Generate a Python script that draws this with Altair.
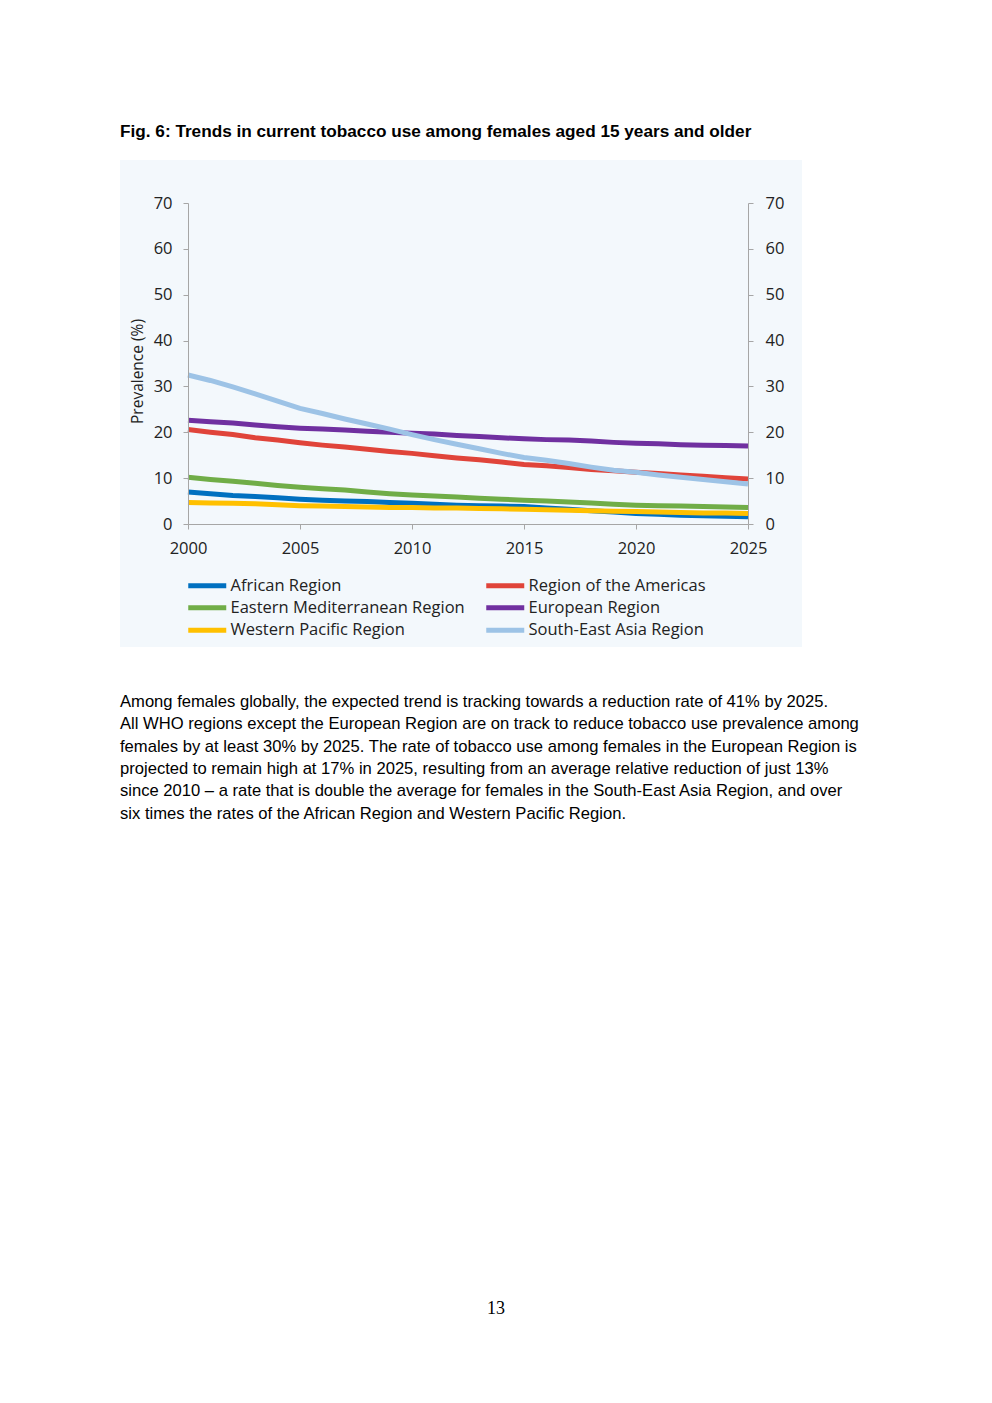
import altair as alt
import pandas as pd

years = list(range(2000, 2026))

african = [7.0, 6.6, 6.2, 6.0, 5.7, 5.4, 5.2, 5.0, 4.9, 4.7, 4.5, 4.3, 4.1, 4.0, 3.9, 3.8, 3.5, 3.2, 2.9, 2.6, 2.3, 2.1, 1.9, 1.8, 1.7, 1.6]
americas = [20.6, 20.0, 19.5, 18.8, 18.3, 17.7, 17.2, 16.8, 16.3, 15.8, 15.4, 14.9, 14.4, 14.0, 13.5, 13.0, 12.7, 12.3, 11.9, 11.6, 11.3, 11.0, 10.7, 10.4, 10.1, 9.8]
eastern_med = [10.2, 9.7, 9.3, 8.9, 8.4, 8.0, 7.7, 7.4, 7.0, 6.6, 6.3, 6.1, 5.9, 5.6, 5.4, 5.2, 5.0, 4.8, 4.6, 4.3, 4.1, 4.0, 3.9, 3.8, 3.7, 3.6]
european = [22.6, 22.3, 22.0, 21.6, 21.2, 20.9, 20.7, 20.5, 20.2, 20.0, 19.8, 19.6, 19.3, 19.1, 18.8, 18.6, 18.4, 18.3, 18.1, 17.8, 17.6, 17.5, 17.3, 17.2, 17.1, 17.0]
se_asia = [32.5, 31.3, 29.9, 28.4, 26.8, 25.2, 24.1, 22.9, 21.8, 20.7, 19.5, 18.4, 17.4, 16.4, 15.4, 14.5, 13.9, 13.2, 12.4, 11.7, 11.3, 10.7, 10.2, 9.7, 9.2, 8.7]
w_pacific = [4.7, 4.6, 4.5, 4.4, 4.2, 4.0, 3.9, 3.8, 3.7, 3.6, 3.6, 3.5, 3.5, 3.4, 3.3, 3.2, 3.1, 3.0, 2.9, 2.8, 2.7, 2.6, 2.5, 2.4, 2.4, 2.3]

draw_order = ["African Region", "Region of the Americas", "Eastern Mediterranean Region",
              "European Region", "South-East Asia Region", "Western Pacific Region"]
series_values = [african, americas, eastern_med, european, se_asia, w_pacific]

# legend is filled column by column: left column then right column
legend_order = ["African Region", "Eastern Mediterranean Region", "Western Pacific Region",
                "Region of the Americas", "European Region", "South-East Asia Region"]
legend_colors = ["#0070C0", "#70AD47", "#FFC000", "#E0443A", "#7030A0", "#9DC3E6"]

y_ticks = [0, 10, 20, 30, 40, 50, 60, 70]
x_ticks = [2000, 2005, 2010, 2015, 2020, 2025]

title_text = "Fig. 6: Trends in current tobacco use among females aged 15 years and older"
paragraph_lines = [
    "Among females globally, the expected trend is tracking towards a reduction rate of 41% by 2025.",
    "All WHO regions except the European Region are on track to reduce tobacco use prevalence among",
    "females by at least 30% by 2025. The rate of tobacco use among females in the European Region is",
    "projected to remain high at 17% in 2025, resulting from an average relative reduction of just 13%",
    "since 2010 \u2013 a rate that is double the average for females in the South-East Asia Region, and over",
    "six times the rates of the African Region and Western Pacific Region.",
]
page_number = "13"

rows = []
for i, (name, vals) in enumerate(zip(draw_order, series_values)):
    for y, v in zip(years, vals):
        rows.append({"Year": y, "Region": name, "Value": v, "ord": i})
df = pd.DataFrame(rows)

FONT = "Open Sans"
TXT = "Liberation Sans"
AX = "#A6A6A6"
LBL = "#222222"
FS = 16.5

xscale = alt.Scale(domain=[2000, 2025], nice=False, zero=False)
yscale = alt.Scale(domain=[0, 70], nice=False)

bg = alt.Chart(pd.DataFrame({"a": [0]})).mark_rect(color="#F3F8FC").encode(
    x=alt.value(-68), x2=alt.value(614), y=alt.value(-43), y2=alt.value(444)
)

lines = alt.Chart(df).mark_line(strokeWidth=5, strokeCap="butt", interpolate="linear").encode(
    x=alt.X("Year:Q", scale=xscale,
            axis=alt.Axis(values=x_ticks, format="d", title=None, grid=False, zindex=1,
                          domainColor=AX, tickColor=AX, tickSize=5,
                          labelFont=FONT, labelFontSize=FS, labelColor=LBL,
                          labelPadding=11, labelFlush=False)),
    y=alt.Y("Value:Q", scale=yscale,
            axis=alt.Axis(values=y_ticks, title="Prevalence (%)", grid=False, zindex=1,
                          domainColor=AX, tickColor=AX, tickSize=5,
                          labelFont=FONT, labelFontSize=FS, labelColor=LBL,
                          labelPadding=11, titleFont=FONT, titleFontSize=15.5,
                          titleFontWeight="normal", titleColor=LBL,
                          titleX=-51, titleY=168, titleAlign="center",
                          titleBaseline="middle", titleAngle=270)),
    color=alt.Color("Region:N", scale=alt.Scale(domain=legend_order, range=legend_colors),
                    legend=alt.Legend(title=None, orient="none", legendX=11, legendY=374,
                                      columns=2, symbolType="M-3.8,0H3.8", symbolSize=100,
                                      symbolStrokeWidth=5, labelFont=FONT, labelFontSize=FS,
                                      labelColor=LBL, labelOffset=15, columnPadding=11,
                                      rowPadding=1.5, labelLimit=400, padding=0)),
    detail="ord:O",
    order="ord:O",
)

right_axis = alt.Chart(df).mark_point(opacity=0).encode(
    y=alt.Y("Value:Q", scale=yscale,
            axis=alt.Axis(orient="right", values=y_ticks, title=None, grid=False, zindex=1,
                          domainColor=AX, tickColor=AX, tickSize=5,
                          labelFont=FONT, labelFontSize=FS, labelColor=LBL,
                          labelPadding=12)),
)

title_mark = alt.Chart(pd.DataFrame({"t": [title_text]})).mark_text(
    align="left", baseline="middle", font=TXT, fontSize=17.2, fontWeight="bold",
    color="#000000").encode(text="t:N", x=alt.value(-68), y=alt.value(-71))

para = alt.Chart(pd.DataFrame({"t": ["\n".join(paragraph_lines)]})).mark_text(
    align="left", baseline="middle", font=TXT, fontSize=16.6, color="#000000",
    lineBreak="\n", lineHeight=22.3).encode(text="t:N", x=alt.value(-68), y=alt.value(499))

pg = alt.Chart(pd.DataFrame({"p": [page_number]})).mark_text(
    align="center", baseline="middle", font="Liberation Serif", fontSize=18,
    color="#000000").encode(text="p:N", x=alt.value(308), y=alt.value(1106))

chart = alt.layer(bg, lines, right_axis, title_mark, para, pg).resolve_axis(
    y="independent"
).properties(
    width=560, height=321,
    autosize=alt.AutoSizeParams(type="none"),
    padding={"left": 180, "top": 195, "right": 220, "bottom": 800},
).configure_view(stroke=None).configure(background="white")

chart.save("out.html", embed_options={"renderer": "svg", "actions": False})
